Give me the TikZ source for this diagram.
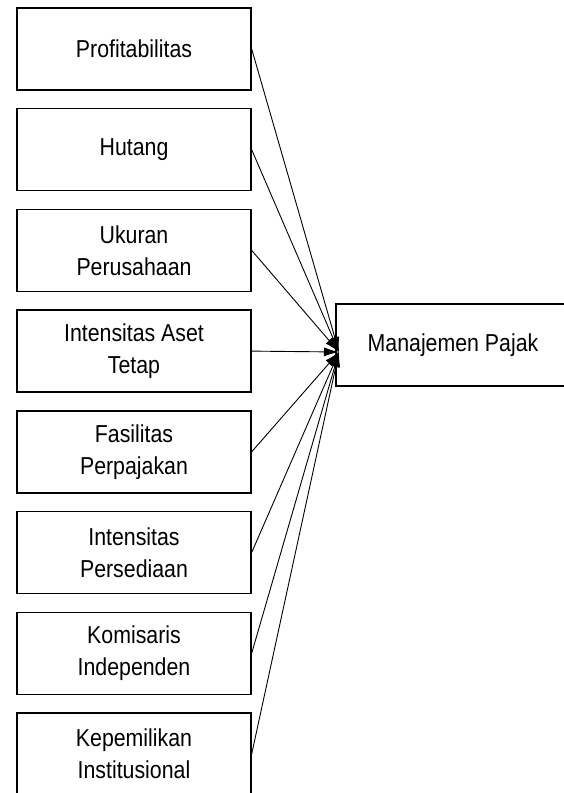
\documentclass[tikz,border=0pt]{standalone}
\usepackage{fontspec}
\setmainfont{Liberation Sans}[FakeStretch=0.87]
\usetikzlibrary{arrows.meta}

\begin{document}
\begin{tikzpicture}[x=1pt, y=-1pt, every node/.style={font=\fontsize{24.5}{32}\selectfont}]
  \clip (0,0) rectangle (564,793);
  \fill[white] (0,0) rectangle (564,793);
  \foreach \i/\name/\txt in {0/prof/Profitabilitas,1/hut/Hutang,2/ukuran/{Ukuran\\Perusahaan},3/aset/{Intensitas Aset\\Tetap},4/fasil/{Fasilitas\\Perpajakan},5/sedia/{Intensitas\\Persediaan},6/komis/{Komisaris\\Independen},7/inst/{Kepemilikan\\Institusional}} {
    \node[draw, line width=1.4pt, minimum width=234pt, minimum height=82pt, align=center] (\name) at (134,49+100.7*\i) {\txt};
  }
  \node[draw, line width=1.4pt, minimum width=234pt, minimum height=82pt] (pajak) at (453,345) {Manajemen Pajak};
  \coordinate (tip) at (339,352);
  \foreach \name in {prof,hut,ukuran,aset,fasil,sedia,komis,inst} {
    \draw[line width=0.9pt, -{Latex[length=15pt,width=9pt]}] (\name.east) -- (tip);
  }
\end{tikzpicture}
\end{document}
